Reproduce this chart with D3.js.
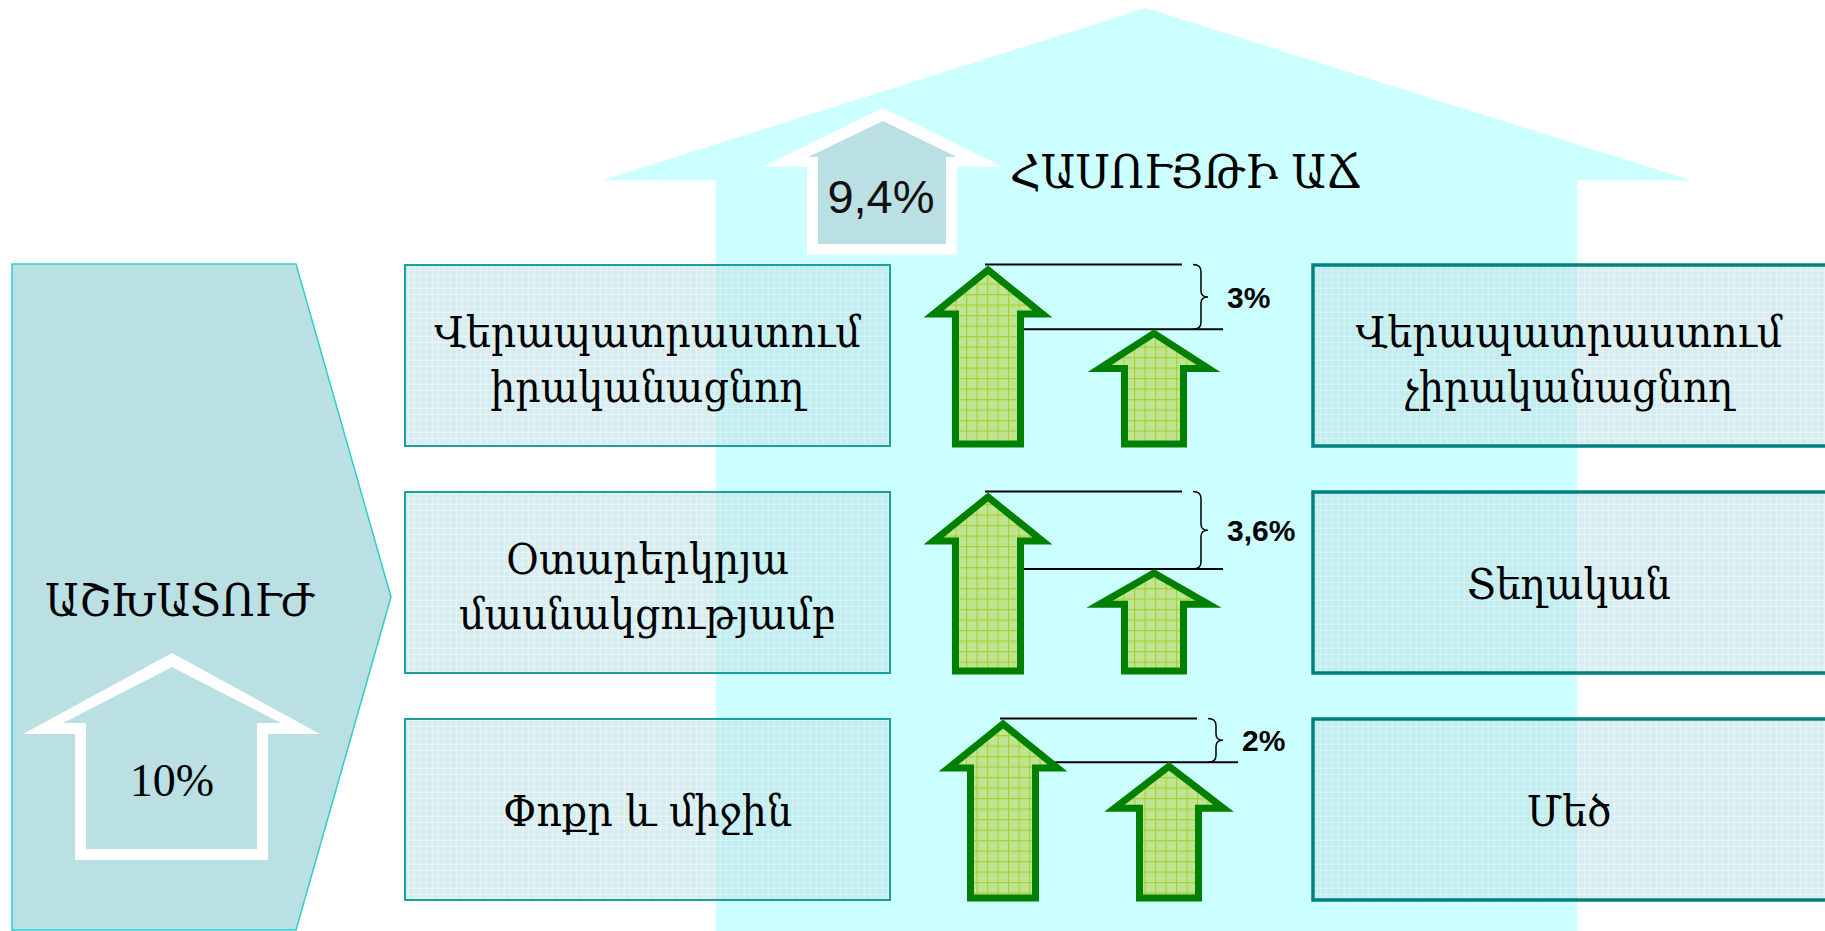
<!DOCTYPE html>
<html><head><meta charset="utf-8">
<script src="https://cdn.jsdelivr.net/npm/d3@7"></script>
<style>html,body{margin:0;padding:0;background:#fff;overflow:hidden}</style>
</head><body>
<svg id="c" width="1825" height="931"></svg>
<script>
// ---- data ----
const leftLabels = [["Վերապատրաստում","իրականացնող"],["Օտարերկրյա","մասնակցությամբ"],["Փոքր և միջին"]];
const rightLabels = [["Վերապատրաստում","չիրականացնող"],["Տեղական"],["Մեծ"]];
const gapValues = [3, 3.6, 2];
const gapLabels = ["3%","3,6%","2%"];
const capitalGrowth = "9,4%";
const capitalTitle = "ՀԱՍՈՒՅԹԻ ԱՃ";
const laborGrowth = "10%";
const laborTitle = "ԱՇԽԱՏՈՒԺ";

// ---- layout ----
const W = 1825, H = 931;
const svg = d3.select("#c");
const rowShift = [0, 0, 15];
const armFont = "'DejaVu Serif', 'DejaVu Sans', serif";
const squeeze = 0.92;

const rowScale = d3.scaleBand().domain(d3.range(3)).range([265, 900]).paddingInner(46/227);
const gapScale = d3.scaleLinear().domain([0, 3.6]).range([0, 76]);

function fitText(sel, k){
  const n = sel.node().getComputedTextLength();
  sel.attr("textLength", n*k).attr("lengthAdjust","spacingAndGlyphs");
  return sel;
}

const defs = svg.append("defs");
const gp = defs.append("pattern").attr("id","gridG").attr("width",10.5).attr("height",10.5).attr("patternUnits","userSpaceOnUse");
gp.append("rect").attr("width",10.5).attr("height",10.5).attr("fill","#BFE492");
gp.append("path").attr("d","M0,0.5H10.5M0.5,0V10.5").attr("stroke","#A5D233").attr("stroke-width",1.2);
const bp = defs.append("pattern").attr("id","gridB").attr("width",6).attr("height",6).attr("patternUnits","userSpaceOnUse");
bp.append("rect").attr("width",6).attr("height",6).attr("fill","#BFE2E5");
bp.append("path").attr("d","M0,0.5H6M0.5,0V6").attr("stroke","#D5EEF0").attr("stroke-width",1);

// ---- house background ----
svg.append("path")
  .attr("d", d3.line()([[1146,8],[1690,180],[1577,180],[1577,H+5],[716,H+5],[716,180],[603,180]]) + "Z")
  .attr("fill","#CCFFFF");

// ---- left pentagon ----
svg.append("path")
  .attr("d", d3.line()([[12,264],[296,264],[391,597],[296,930],[12,930]]) + "Z")
  .attr("fill","#BBE0E3").attr("stroke","#33CCCC").attr("stroke-width",1.5);

function blockArrow(g, o, i){
  g.append("path").attr("d", d3.line()([[o.cx,o.tip],[o.wr,o.wy],[o.sr,o.wy],[o.sr,o.bot],[o.sl,o.bot],[o.sl,o.wy],[o.wl,o.wy]])+"Z").attr("fill","#fff");
  g.append("path").attr("d", d3.line()([[i.cx,i.tip],[i.wr,i.wy],[i.sr,i.wy],[i.sr,i.bot],[i.sl,i.bot],[i.sl,i.wy],[i.wl,i.wy]])+"Z").attr("fill","#BBE0E3");
}
const gL = svg.append("g");
blockArrow(gL, {cx:172,tip:653,wy:734,wl:23,wr:320,sl:75,sr:268,bot:860},
               {cx:172,tip:667,wy:723,wl:63,wr:281,sl:86,sr:257,bot:849});
gL.append("text").attr("x",172).attr("y",796).attr("text-anchor","middle")
  .attr("font-family","'Liberation Serif','Times New Roman',serif").attr("font-size",46).text(laborGrowth);
fitText(svg.append("text").attr("x",180).attr("y",616).attr("text-anchor","middle")
  .attr("font-family",armFont).attr("font-size",45).text(laborTitle), 0.93);

const gC = svg.append("g");
blockArrow(gC, {cx:883,tip:108,wy:167,wl:762,wr:1003,sl:807,sr:957,bot:255},
               {cx:883,tip:121,wy:157,wl:808,wr:957,sl:818,sr:946,bot:244});
gC.append("text").attr("x",881).attr("y",213).attr("text-anchor","middle")
  .attr("font-family","'Liberation Sans',Arial,sans-serif").attr("font-size",47).attr("fill","#111").text(capitalGrowth);
fitText(svg.append("text").attr("x",1010).attr("y",188)
  .attr("font-family",armFont).attr("font-size",46).text(capitalTitle), 0.93);

// ---- boxes ----
const rows = d3.range(3);
const bw = rowScale.bandwidth();
svg.selectAll("rect.lbox").data(rows).join("rect").attr("class","lbox")
  .attr("x",405).attr("y",d=>rowScale(d)).attr("width",485).attr("height",bw)
  .attr("fill","url(#gridB)").attr("fill-opacity",0.62).attr("stroke","#1A9E9E").attr("stroke-width",2);
svg.selectAll("rect.rbox").data(rows).join("rect").attr("class","rbox")
  .attr("x",1313).attr("y",d=>rowScale(d)).attr("width",540).attr("height",bw)
  .attr("fill","url(#gridB)").attr("fill-opacity",0.62).attr("stroke","#008080").attr("stroke-width",3.5);

function boxText(cx, labels){
  rows.forEach(r=>{
    const lines = labels[r];
    const top = rowScale(r);
    const base = lines.length===1 ? [top+107] : [top+82, top+137];
    lines.forEach((t,k)=>{
      fitText(svg.append("text").attr("x",cx).attr("y",base[k]).attr("text-anchor","middle")
        .attr("font-family",armFont).attr("font-size",43).attr("fill","#000").text(t), squeeze);
    });
  });
}
boxText(647.5, leftLabels);
boxText(1569, rightLabels);

// ---- green arrows ----
function upArrow(cx, tipOuter, botOuter, headHalf, shaftHalf){
  const tip = tipOuter + 5, bot = botOuter - 3.5;
  const h = bot - tip;
  const head = Math.min(44, 0.318*h);
  const wy = tip + head;
  return d3.line()([[cx,tip],[cx+headHalf,wy],[cx+shaftHalf,wy],[cx+shaftHalf,bot],[cx-shaftHalf,bot],[cx-shaftHalf,wy],[cx-headHalf,wy]])+"Z";
}
rows.forEach(r=>{
  const top = rowScale(r), bot = top + bw + 1.5;
  const bx = 988 + rowShift[r], sx = 1154 + rowShift[r];
  const smallTip = top + gapScale(gapValues[r]);
  const g = svg.append("g");
  g.append("line").attr("x1",bx-3).attr("x2",bx+194).attr("y1",top-0.5).attr("y2",top-0.5).attr("stroke","#000").attr("stroke-width",2);
  g.append("line").attr("x1",bx+36).attr("x2",bx+235).attr("y1",smallTip+1).attr("y2",smallTip+1).attr("stroke","#000").attr("stroke-width",2);
  g.append("path").attr("d",upArrow(bx, top, bot, 54.5, 32.5)).attr("fill","url(#gridG)").attr("stroke","#008000").attr("stroke-width",7);
  g.append("path").attr("d",upArrow(sx, smallTip, bot, 54.5, 29.5)).attr("fill","url(#gridG)").attr("stroke","#008000").attr("stroke-width",7);
  const b0 = bx + 205, y0 = top - 0.5, y1 = smallTip + 1, ym = (y0+y1)/2;
  const p = d3.path();
  p.moveTo(b0, y0); p.quadraticCurveTo(b0+8, y0, b0+8, y0+7);
  p.lineTo(b0+8, ym-6); p.quadraticCurveTo(b0+8, ym, b0+15, ym);
  p.quadraticCurveTo(b0+8, ym, b0+8, ym+6); p.lineTo(b0+8, y1-7);
  p.quadraticCurveTo(b0+8, y1, b0, y1);
  g.append("path").attr("d",p.toString()).attr("fill","none").attr("stroke","#000").attr("stroke-width",1.5);
  g.append("text").attr("x",bx+239).attr("y",ym+11).attr("font-family","'Liberation Sans',Arial,sans-serif")
    .attr("font-weight","bold").attr("font-size",30).text(gapLabels[r]);
});
</script>
</body></html>
